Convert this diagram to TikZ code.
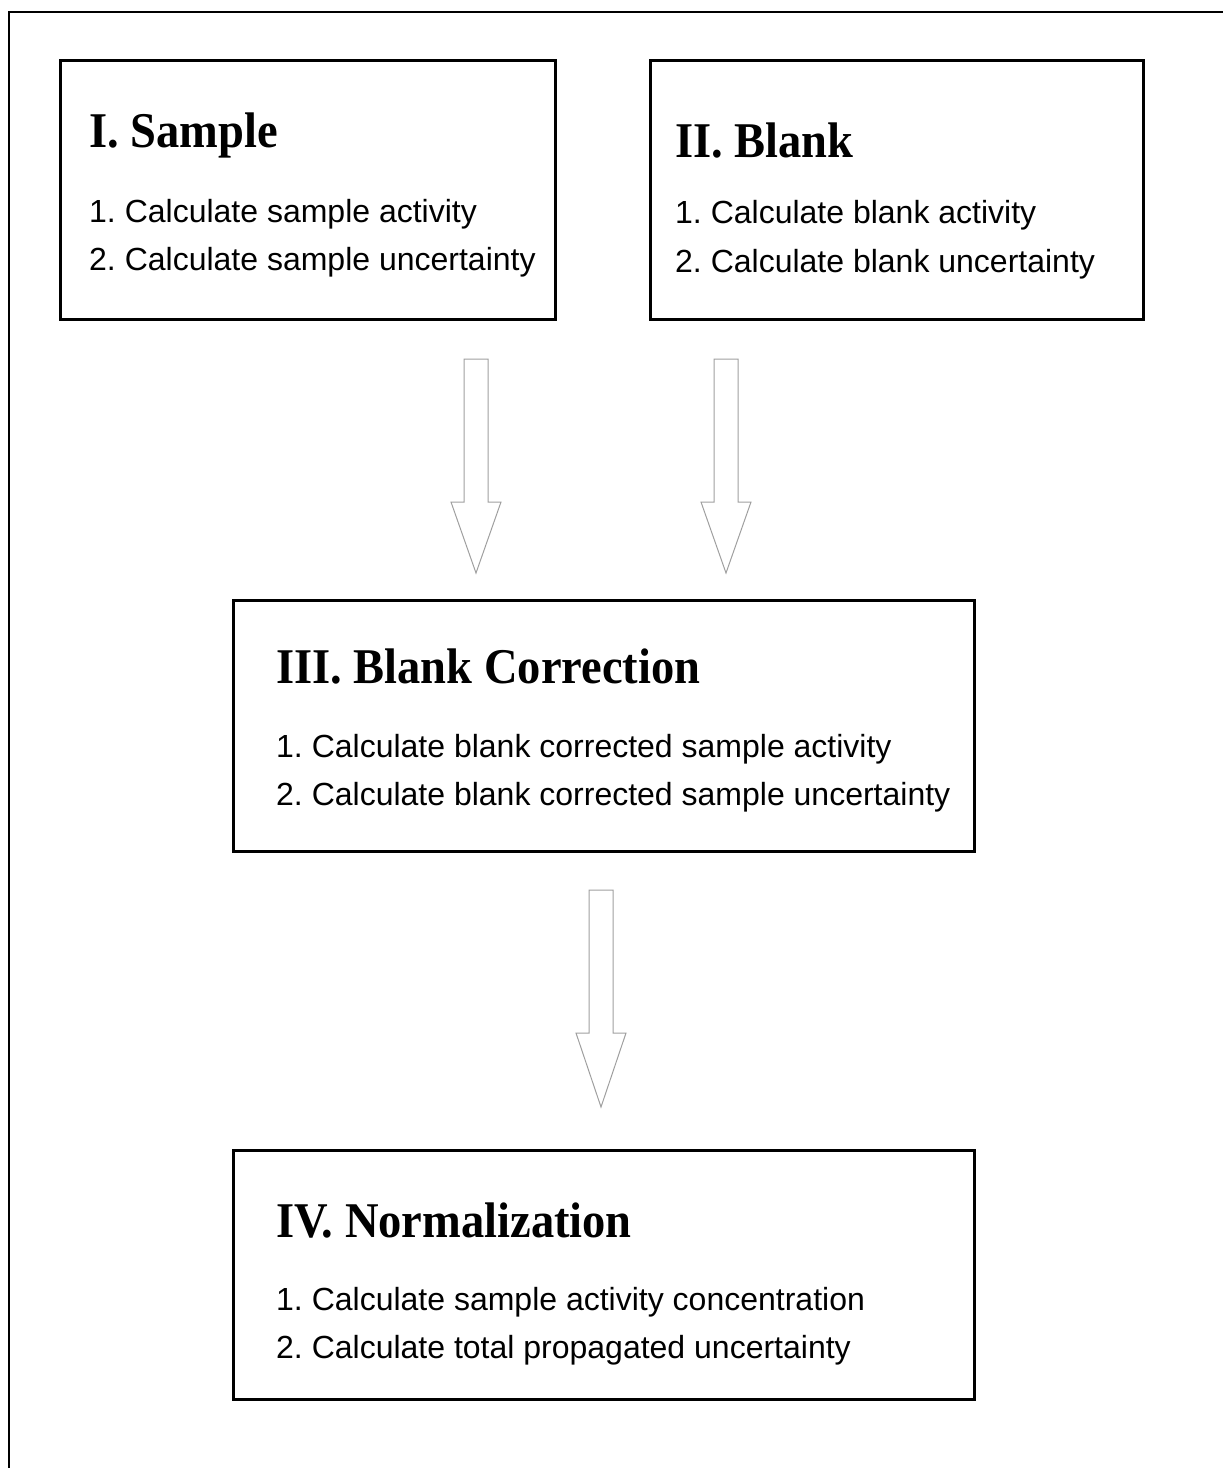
\documentclass[tikz,border=0pt]{standalone}
\usepackage{fontspec}
\setmainfont{Liberation Sans}
\newfontfamily\headfont{Liberation Serif}[FakeStretch=0.93]
\frenchspacing
\begin{document}
\begin{tikzpicture}[x=1pt, y=-1pt,
		stage/.style={draw, line width=3pt, inner sep=0pt},
		head/.style={anchor=base west, inner sep=0pt, font=\headfont\bfseries\fontsize{50}{50}\selectfont},
		item/.style={anchor=base west, inner sep=0pt, font=\fontsize{32}{32}\selectfont},
		hollow/.style={draw=gray!75, line width=1pt, line join=miter}]
			\useasboundingbox (0,0) rectangle (1223,1468);
			
			% frame
			\draw[line width=2.6pt] (9,1468) -- (9,12) -- (1223,12);
			
			% stages
			\node[stage, minimum width=495pt, minimum height=259pt] (sample) at (307.5,189.5) {};
			\node[stage, minimum width=493pt, minimum height=259pt] (blank) at (896.5,189.5) {};
			\node[stage, minimum width=741pt, minimum height=251pt] (corr) at (603.5,725.5) {};
			\node[stage, minimum width=741pt, minimum height=249pt] (norm) at (603.5,1274.5) {};
			
			\node[head] (sampleH) at (89,147) {I. Sample};
			\node[item] (sampleA) at (89,222) {1. Calculate sample activity};
			\node[item] (sampleB) at (89,270) {2. Calculate sample uncertainty};
			
			\node[head] (blankH) at (675,157) {II. Blank};
			\node[item] (blankA) at (675,223) {1. Calculate blank activity};
			\node[item] (blankB) at (675,272) {2. Calculate blank uncertainty};
			
			\node[head] (corrH) at (276,683) {III. Blank Correction};
			\node[item] (corrA) at (276,757) {1. Calculate blank corrected sample activity};
			\node[item] (corrB) at (276,805) {2. Calculate blank corrected sample uncertainty};
			
			\node[head] (normH) at (276,1237) {IV. Normalization};
			\node[item] (normA) at (276,1310) {1. Calculate sample activity concentration};
			\node[item] (normB) at (276,1358) {2. Calculate total propagated uncertainty};
			
			% block arrows
			\foreach \cx/\ya/\yb/\yc in {476/359/502/573, 726/359/502/573, 601/890/1033/1107}{
				\draw[hollow] (\cx-12,\ya) -- (\cx+12,\ya) -- (\cx+12,\yb) -- (\cx+25,\yb)
					-- (\cx,\yc) -- (\cx-25,\yb) -- (\cx-12,\yb) -- cycle;
			}
		\end{tikzpicture}
\end{document}
